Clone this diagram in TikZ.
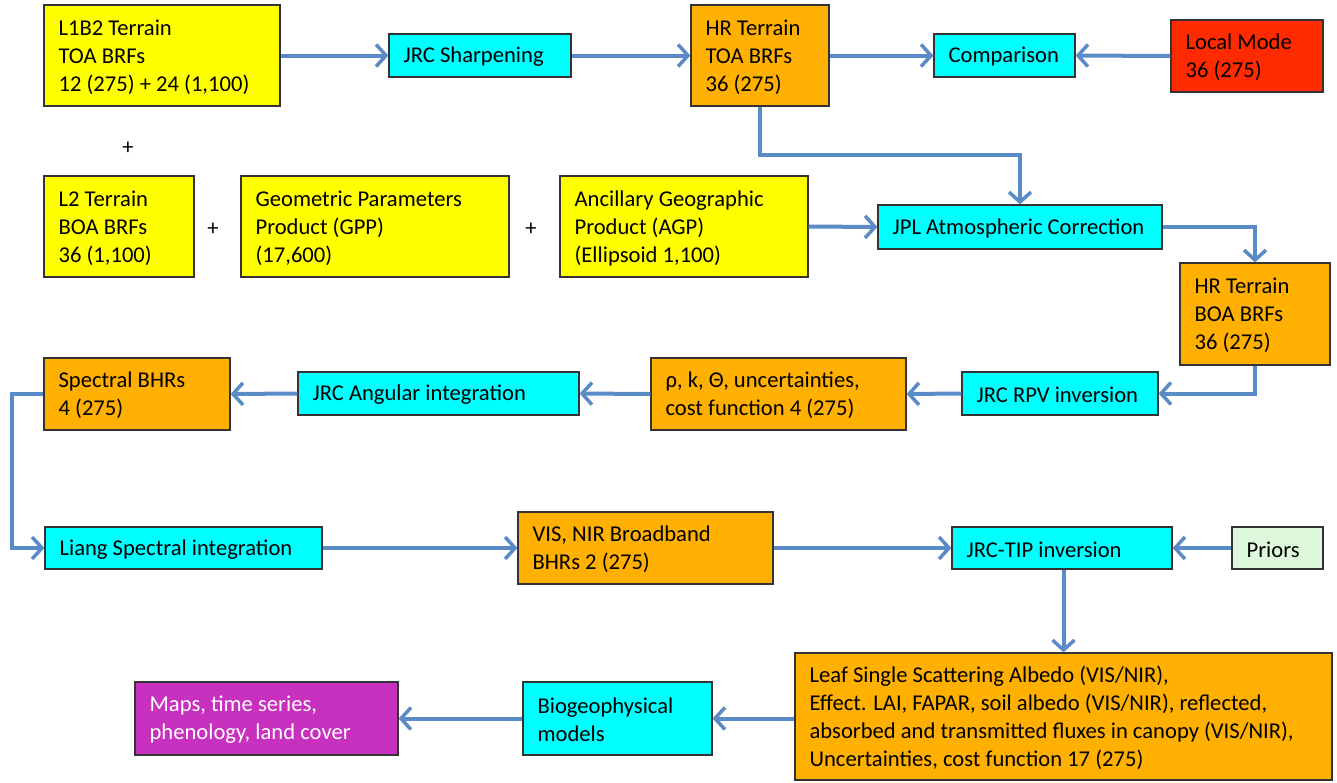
\documentclass[tikz,border=0pt]{standalone}
\usepackage{fontspec}
\setmainfont{Carlito}
\usetikzlibrary{arrows.meta}
\definecolor{arrowc}{HTML}{5B8BC7}
\definecolor{cyanbox}{HTML}{00FFFF}
\definecolor{yellowbox}{HTML}{FFFF00}
\definecolor{orangebox}{HTML}{FFB000}
\definecolor{redbox}{HTML}{FF2A00}
\definecolor{magentabox}{HTML}{C830C0}
\definecolor{greenbox}{HTML}{DDF8DA}
\definecolor{edgec}{HTML}{333333}
\newcommand\bx[7]{%
 \pgfmathsetmacro\bxw{#4-#2}%
 \pgfmathsetmacro\bxh{#5-#3}%
 \pgfmathsetmacro\bxx{(#2+#4)/2}%
 \pgfmathsetmacro\bxy{(#3+#5)/2}%
 \node[box,#6,minimum width=\bxw pt,minimum height=\bxh pt,
   label={[lbl,#6,fill=none,draw=none]west:{#7}}] (#1) at (\bxx,\bxy) {};}
\tikzset{
 box/.style={draw=edgec, line width=1.2pt, inner sep=0pt},
 lbl/.style={anchor=west, inner xsep=15pt, inner ysep=0pt, yshift=-1.5pt, align=left, label distance=0pt, font=\fontsize{22.6}{28}\selectfont},
 yel/.style={fill=yellowbox},
 cyn/.style={fill=cyanbox},
 org/.style={fill=orangebox},
 rd/.style={fill=redbox},
 mag/.style={fill=magentabox, text=white},
 grn/.style={fill=greenbox},
 arr/.style={draw=arrowc, line width=4pt, -{Straight Barb[length=10pt,width=22pt,line width=3.5pt]}},
 plus/.style={font=\fontsize{22.6}{28}\selectfont, inner sep=0pt}
}
\begin{document}
\begin{tikzpicture}[x=1pt,y=-1pt]
\useasboundingbox (0,0) rectangle (1337,782);
% row 1
\bx{l1b2}{44}{5}{280}{106}{yel}{L1B2 Terrain\\TOA BRFs\\12 (275) + 24 (1,100)}
\bx{sharp}{389}{34}{571}{77}{cyn}{JRC Sharpening}
\bx{hrtoa}{691}{5}{829}{106}{org}{HR Terrain\\TOA BRFs\\36 (275)}
\bx{comp}{934}{34}{1075}{77}{cyn}{Comparison}
\bx{local}{1171}{20}{1323}{92}{rd}{Local Mode\\36 (275)}
\node[plus] (p1) at (128,148) {+};
% row 2
\bx{l2}{44}{176}{194}{277}{yel}{L2 Terrain\\BOA BRFs\\36 (1,100)}
\node[plus] (p2) at (213,229) {+};
\bx{gpp}{241}{176}{509}{277}{yel}{Geometric Parameters\\Product (GPP)\\(17,600)}
\node[plus] (p3) at (531,229) {+};
\bx{agp}{560}{176}{808}{277}{yel}{Ancillary Geographic\\Product (AGP)\\(Ellipsoid 1,100)}
\bx{jpl}{878}{205}{1162}{249}{cyn}{JPL Atmospheric Correction}
\bx{hrboa}{1180}{263}{1330}{365}{org}{HR Terrain\\BOA BRFs\\36 (275)}
% row 3
\bx{spec}{44}{358}{230}{430}{org}{Spectral BHRs\\4 (275)}
\bx{ang}{298}{372}{579}{415}{cyn}{JRC Angular integration}
\bx{rho}{651}{358}{906}{430}{org}{ρ, k, Θ, uncertainties,\\cost function 4 (275)}
\bx{rpv}{962}{372}{1158}{415}{cyn}{JRC RPV inversion}
% row 4
\bx{liang}{45}{527}{322}{569}{cyn}{Liang Spectral integration}
\bx{vis}{518}{512}{773}{584}{org}{VIS, NIR Broadband\\BHRs 2 (275)}
\bx{tip}{952}{527}{1172}{569}{cyn}{JRC-TIP inversion}
\bx{priors}{1232}{527}{1323}{569}{grn}{Priors}
% row 5
\bx{leaf}{795}{653}{1332}{780}{org}{Leaf Single Scattering Albedo (VIS/NIR),\\Effect. LAI, FAPAR, soil albedo (VIS/NIR), reflected,\\absorbed and transmitted fluxes in canopy (VIS/NIR),\\Uncertainties, cost function 17 (275)}
\bx{bio}{523}{682}{712}{755}{cyn}{Biogeophysical\\models}
\bx{maps}{135}{682}{398}{755}{mag}{Maps, time series,\\phenology, land cover}
% connectors
\draw[arr] (l1b2.east) -- (sharp.west);
\draw[arr] (sharp.east) -- (hrtoa.west);
\draw[arr] (hrtoa.east) -- (comp.west);
\draw[arr] (local.west) -- (comp.east);
\draw[arr] (hrtoa.south) -- (hrtoa.south |- 0,155) -| (jpl.north);
\draw[arr] (agp.east) -- (jpl.west);
\draw[arr] (jpl.east) -| (hrboa.north);
\draw[arr] (hrboa.south) |- (rpv.east);
\draw[arr] (rpv.west) -- (rho.east);
\draw[arr] (rho.west) -- (ang.east);
\draw[arr] (ang.west) -- (spec.west -| spec.east);
\draw[arr] (spec.west) -- (12,394) |- (liang.west);
\draw[arr] (liang.east) -- (vis.west |- liang.east);
\draw[arr] (vis.east |- tip.west) -- (tip.west);
\draw[arr] (priors.west) -- (tip.east);
\draw[arr] (tip.south -| leaf.north) -- (leaf.north);
\draw[arr] (leaf.west |- bio.east) -- (bio.east);
\draw[arr] (bio.west) -- (maps.east);
\end{tikzpicture}
\end{document}
